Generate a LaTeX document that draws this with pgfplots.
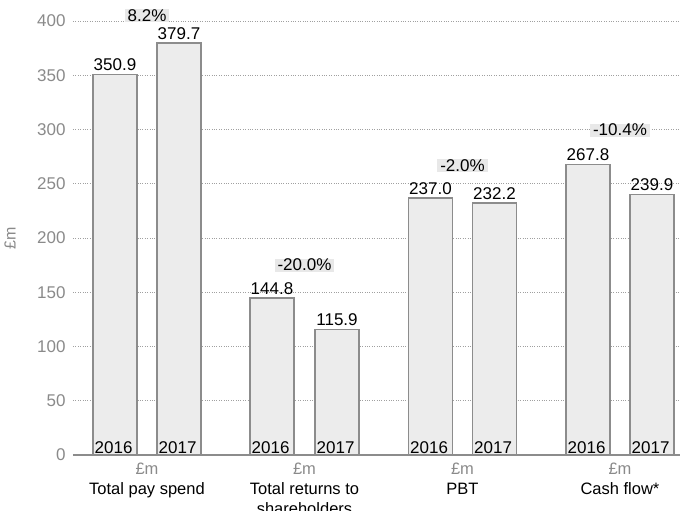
\documentclass[border=0pt]{standalone}
\usepackage{fontspec}
\setmainfont{Liberation Sans}
\usepackage{pgfplots}
\pgfplotsset{compat=1.18}
\definecolor{barfill}{HTML}{ECECEC}
\definecolor{barline}{HTML}{8C8C8C}
\definecolor{ticktext}{HTML}{8A8A8A}
\definecolor{gridc}{HTML}{A0A0A0}
\definecolor{pctbg}{HTML}{E8E8E8}
\newcommand{\lbl}{\fontsize{17bp}{20bp}\selectfont}
\begin{document}
\begin{tikzpicture}
\begin{axis}[
  scale only axis, width=607bp, height=434bp,
  xmin=73, xmax=680, ymin=0, ymax=400,
  clip=false,
  /pgf/number format/assume math mode=true,
  ytick={0,50,...,400},
  ymajorgrids, grid style={gridc, dotted, line width=0.9pt},
  xtick={147,304.5,462.5,620},
  xticklabels={{\textcolor{ticktext}{£m}\\Total pay spend},
               {\textcolor{ticktext}{£m}\\Total returns to\\shareholders},
               {\textcolor{ticktext}{£m}\\PBT},
               {\textcolor{ticktext}{£m}\\Cash flow*}},
  xticklabel style={align=center, font=\fontsize{16.5bp}{20bp}\selectfont, text=black, yshift=-4bp},
  yticklabel style={font=\fontsize{17bp}{20bp}\selectfont, text=ticktext, xshift=-4bp},
  major tick length=0pt,
  axis line style={draw=none},
  ylabel={£m},
  every axis y label/.style={at={(rel axis cs:0,0.5)}, anchor=center, xshift=-63bp, rotate=90, font=\fontsize{16bp}{19bp}\selectfont, text=ticktext},
]
\draw[barline, line width=1.2bp] (rel axis cs:0,0) -- (rel axis cs:1,0);
\addplot[ybar, bar width=44, bar shift=0pt, fill=barfill, draw=barline, line width=1.3bp,
  nodes near coords={\pgfmathprintnumber[fixed, fixed zerofill, precision=1]{\pgfplotspointmeta}},
  every node near coord/.append style={font=\lbl, text=black, inner sep=3bp}]
  coordinates {(115,350.9) (179,379.7) (272,144.8) (337,115.9)
               (430.5,237.0) (494.5,232.2) (588,267.8) (652,239.9)};
\node[anchor=south west, inner xsep=1.5bp, inner ysep=1.5bp, font=\lbl] at (axis cs:93,0) {2016};
\node[anchor=south west, inner xsep=1.5bp, inner ysep=1.5bp, font=\lbl] at (axis cs:250,0) {2016};
\node[anchor=south west, inner xsep=1.5bp, inner ysep=1.5bp, font=\lbl] at (axis cs:408.5,0) {2016};
\node[anchor=south west, inner xsep=1.5bp, inner ysep=1.5bp, font=\lbl] at (axis cs:566,0) {2016};
\node[anchor=south west, inner xsep=1.5bp, inner ysep=1.5bp, font=\lbl] at (axis cs:157,0) {2017};
\node[anchor=south west, inner xsep=1.5bp, inner ysep=1.5bp, font=\lbl] at (axis cs:315,0) {2017};
\node[anchor=south west, inner xsep=1.5bp, inner ysep=1.5bp, font=\lbl] at (axis cs:472.5,0) {2017};
\node[anchor=south west, inner xsep=1.5bp, inner ysep=1.5bp, font=\lbl] at (axis cs:630,0) {2017};
\node[fill=pctbg, inner xsep=3bp, inner ysep=0.5bp, font=\lbl] at (axis cs:147,405) {8.2\%};
\node[fill=pctbg, inner xsep=3bp, inner ysep=0.5bp, font=\lbl] at (axis cs:304.5,175) {-20.0\%};
\node[fill=pctbg, inner xsep=3bp, inner ysep=0.5bp, font=\lbl] at (axis cs:462.5,267) {-2.0\%};
\node[fill=pctbg, inner xsep=3bp, inner ysep=0.5bp, font=\lbl] at (axis cs:620,299.5) {-10.4\%};
\end{axis}
\pgfresetboundingbox
\path[use as bounding box] ([xshift=-73bp,yshift=-56bp]current axis.south west) rectangle ([yshift=21bp]current axis.north east);
\end{tikzpicture}
\end{document}
